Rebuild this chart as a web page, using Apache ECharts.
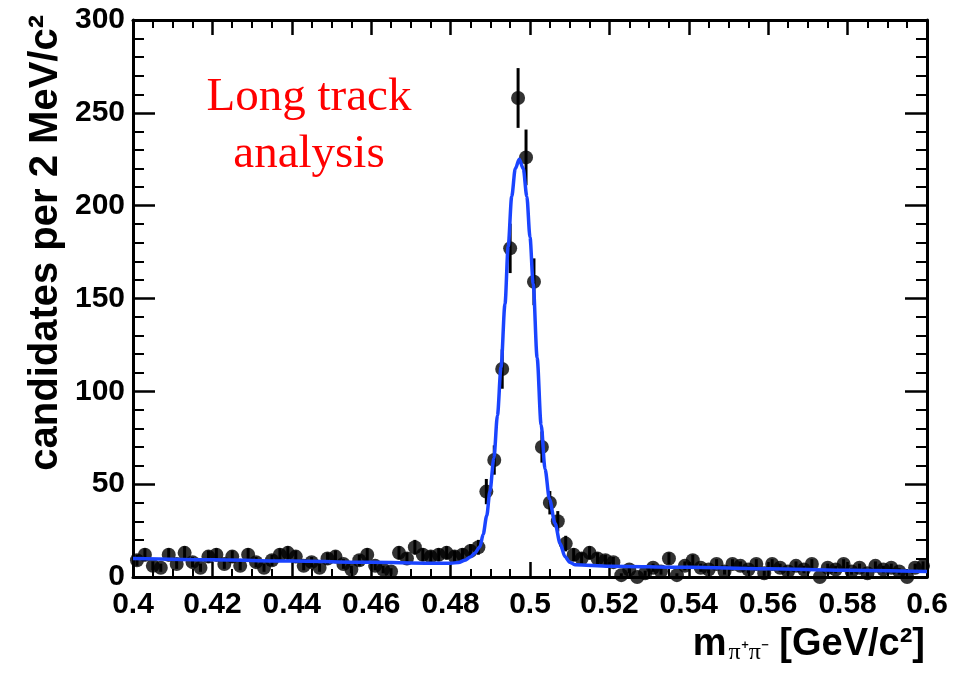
<!DOCTYPE html>
<html>
<head>
<meta charset="utf-8">
<script src="https://cdn.jsdelivr.net/npm/echarts@6/dist/echarts.min.js"></script>
<style>
html, body { margin: 0; padding: 0; background: #fff; }
#chart { width: 953px; height: 673px; }
</style>
</head>
<body>
<div id="chart"></div>
<script>
// Bin centres of the pi+pi- invariant mass histogram (2 MeV bins), GeV/c^2
const massBins = [
  0.401, 0.403, 0.405, 0.407, 0.409, 0.411, 0.413, 0.415, 0.417, 0.419,
  0.421, 0.423, 0.425, 0.427, 0.429, 0.431, 0.433, 0.435, 0.437, 0.439,
  0.441, 0.443, 0.445, 0.447, 0.449, 0.451, 0.453, 0.455, 0.457, 0.459,
  0.461, 0.463, 0.465, 0.467, 0.469, 0.471, 0.473, 0.475, 0.477, 0.479,
  0.481, 0.483, 0.485, 0.487, 0.489, 0.491, 0.493, 0.495, 0.497, 0.499,
  0.501, 0.503, 0.505, 0.507, 0.509, 0.511, 0.513, 0.515, 0.517, 0.519,
  0.521, 0.523, 0.525, 0.527, 0.529, 0.531, 0.533, 0.535, 0.537, 0.539,
  0.541, 0.543, 0.545, 0.547, 0.549, 0.551, 0.553, 0.555, 0.557, 0.559,
  0.561, 0.563, 0.565, 0.567, 0.569, 0.571, 0.573, 0.575, 0.577, 0.579,
  0.581, 0.583, 0.585, 0.587, 0.589, 0.591, 0.593, 0.595, 0.597, 0.599
];

// Candidates per bin
const counts = [
  9, 12, 6, 5, 12, 7, 13, 8, 5, 11,
  12, 7, 11, 6, 12, 8, 5, 9, 12, 13,
  11, 6, 8, 5, 10, 11, 7, 4, 9, 12,
  6, 4, 3, 13, 10, 16, 12, 11, 12, 13,
  11, 12, 14, 16, 46, 63, 112, 177, 258, 226,
  159, 70, 40, 30, 18, 12, 10, 13, 10, 9,
  8, 1, 4, 0, 2, 5, 3, 10, 1, 6,
  9, 5, 4, 7, 3, 7, 6, 4, 7, 2,
  7, 5, 3, 6, 4, 7, 0, 5, 4, 7,
  3, 5, 2, 6, 4, 5, 3, 0, 5, 6
];

// Statistical uncertainty of each bin
const countErrors = [
  3, 3.5, 2.4, 2.2, 3.5, 2.6, 3.6, 2.8, 2.2, 3.3,
  3.5, 2.6, 3.3, 2.4, 3.5, 2.8, 2.2, 3, 3.5, 3.6,
  3.3, 2.4, 2.8, 2.2, 3.2, 3.3, 2.6, 2, 3, 3.5,
  2.4, 2, 1.7, 3.6, 3.2, 4, 3.5, 3.3, 3.5, 3.6,
  3.3, 3.5, 3.7, 4, 6.8, 7.9, 10.6, 13.3, 16.1, 15,
  12.6, 8.4, 6.3, 5.5, 4.2, 3.5, 3.2, 3.6, 3.2, 3,
  2.8, 1, 2, 0, 1.4, 2.2, 1.7, 3.2, 1, 2.4,
  3, 2.2, 2, 2.6, 1.7, 2.6, 2.4, 2, 2.6, 1.4,
  2.6, 2.2, 1.7, 2.4, 2, 2.6, 0, 2.2, 2, 2.6,
  1.7, 2.2, 1.4, 2.4, 2, 2.2, 1.7, 0, 2.2, 2.4
];

// Fitted signal + background curve
const fitMass = [
  0.400, 0.420, 0.440, 0.460, 0.475, 0.480, 0.482, 0.4836, 0.4850, 0.4861,
  0.4874, 0.4882, 0.4891, 0.4899, 0.4909, 0.4918, 0.4927, 0.4937, 0.4945, 0.4954,
  0.4963, 0.4973, 0.4983, 0.4992, 0.5000, 0.5008, 0.5018, 0.5028, 0.5038, 0.5049,
  0.5063, 0.5076, 0.5088, 0.5100, 0.5113, 0.5200, 0.5400, 0.5600, 0.5800, 0.6000
];
const fitCounts = [
  10.0, 9.3, 8.6, 7.9, 7.4, 7.4, 7.8, 9.0, 10.8, 12.9,
  16.3, 23, 33, 46, 64, 87, 113, 147, 178, 205,
  220, 225, 220, 205, 183, 158, 118, 82, 58, 42,
  29, 18, 11, 8, 6.6, 5.8, 5.2, 4.4, 3.6, 3.0
];

const FONT = '"Liberation Sans", Arial, Helvetica, sans-serif';
const INK = '#000';

const points = massBins.map((m, i) => [m, counts[i], countErrors[i]]);
const fitLine = fitMass.map((m, i) => [m, fitCounts[i]]);

function xAxisDef(pos, showLabels) {
  return {
    type: 'value', position: pos, min: 0.4, max: 0.6, interval: 0.02,
    axisLine: { show: true, onZero: false, lineStyle: { color: INK, width: 3 } },
    axisTick: { show: true, inside: true, length: 15, lineStyle: { color: INK, width: 2.5 } },
    minorTick: { show: true, splitNumber: 4, length: 8, lineStyle: { color: INK, width: 2 } },
    splitLine: { show: false },
    axisLabel: {
      show: showLabels, color: INK, fontFamily: FONT, fontWeight: 'bold', fontSize: 30,
      margin: 13, showMinLabel: true, showMaxLabel: true
    }
  };
}
function yAxisDef(pos, showLabels) {
  return {
    type: 'value', position: pos, min: 0, max: 300, interval: 50,
    axisLine: { show: true, onZero: false, lineStyle: { color: INK, width: 3 } },
    axisTick: { show: true, inside: true, length: 22, lineStyle: { color: INK, width: 2.5 } },
    minorTick: { show: true, splitNumber: 5, length: 11, lineStyle: { color: INK, width: 2 } },
    splitLine: { show: false },
    axisLabel: {
      show: showLabels, color: INK, fontFamily: FONT, fontWeight: 'bold', fontSize: 30,
      margin: 8
    }
  };
}

const chart = echarts.init(document.getElementById('chart'), null, { renderer: 'canvas' });
chart.setOption({
  animation: false,
  backgroundColor: '#fff',
  grid: { left: 133, right: 26, top: 20, bottom: 96 },
  xAxis: [xAxisDef('bottom', true), xAxisDef('top', false)],
  yAxis: [yAxisDef('left', true), yAxisDef('right', false)],
  series: [
    {
      name: 'errors',
      type: 'custom',
      xAxisIndex: 0, yAxisIndex: 0,
      clip: false,
      z: 2,
      data: points,
      renderItem: function (params, api) {
        const x = api.value(0), y = api.value(1), e = api.value(2);
        const hi = api.coord([x, y + e]);
        const lo = api.coord([x, Math.max(y - e, 0)]);
        return {
          type: 'line',
          shape: { x1: hi[0], y1: hi[1], x2: lo[0], y2: lo[1] },
          style: { stroke: INK, lineWidth: 3 }
        };
      }
    },
    {
      name: 'data',
      type: 'scatter',
      xAxisIndex: 0, yAxisIndex: 0,
      clip: false,
      z: 3,
      symbol: 'circle',
      symbolSize: 14,
      itemStyle: { color: INK },
      data: points.map(p => [p[0], p[1]])
    },
    {
      name: 'fit',
      type: 'line',
      xAxisIndex: 0, yAxisIndex: 0,
      z: 4,
      showSymbol: false,
      smooth: 0.3,
      smoothMonotone: 'x',
      lineStyle: { color: '#1a44ff', width: 3.5 },
      data: fitLine
    }
  ],
  graphic: [
    {
      type: 'text', x: 309, y: 126, z: 10,
      style: {
        text: 'Long track\nanalysis',
        fill: '#ff0000',
        font: '47px "Liberation Serif", "Times New Roman", serif',
        align: 'center', verticalAlign: 'middle', lineHeight: 57
      }
    },
    {
      type: 'text', x: 46, y: 15, rotation: Math.PI / 2, z: 10,
      style: {
        text: 'candidates per 2 MeV/c²',
        fill: INK,
        font: 'bold 40px ' + FONT,
        align: 'right', verticalAlign: 'middle'
      }
    },
    {
      type: 'text', x: 925, y: 645, z: 10,
      style: {
        text: '{m|m}{s|π⁺π⁻}{m| [GeV/c²]}',
        align: 'right', verticalAlign: 'middle',
        rich: {
          m: { fill: INK, font: 'bold 38px ' + FONT, lineHeight: 40 },
          s: { fill: INK, font: '24px "Liberation Serif", serif', verticalAlign: 'bottom', lineHeight: 22, padding: [14, 0, 0, 2] }
        }
      }
    }
  ]
});
</script>
</body>
</html>
